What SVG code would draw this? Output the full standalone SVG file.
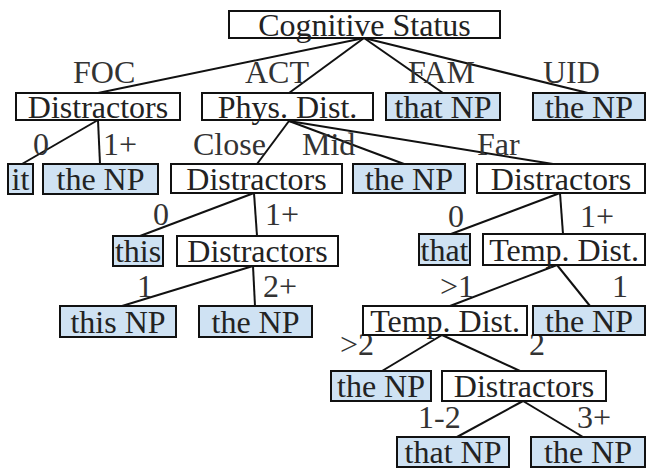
<svg xmlns="http://www.w3.org/2000/svg" width="652" height="468" viewBox="0 0 652 468">
<style>
.box{fill:#ffffff;stroke:#111;stroke-width:2}
.leaf{fill:#cfe2f3;stroke:#111;stroke-width:2}
.t{font-size:32px;fill:#222;text-anchor:middle}
.lbl{font-size:32px;fill:#333}
.edge{stroke:#111;stroke-width:2;fill:none}
</style>
<rect width="652" height="468" fill="#ffffff"/>
<g id="connectors">
<line class="edge" x1="364" y1="38" x2="98" y2="93"/>
<line class="edge" x1="364" y1="38" x2="289" y2="93"/>
<line class="edge" x1="364" y1="38" x2="443" y2="93"/>
<line class="edge" x1="364" y1="38" x2="588" y2="93"/>
<line class="edge" x1="98" y1="120" x2="22" y2="164"/>
<line class="edge" x1="98" y1="120" x2="100" y2="164"/>
<line class="edge" x1="289" y1="121" x2="257" y2="164"/>
<line class="edge" x1="289" y1="121" x2="404" y2="164"/>
<line class="edge" x1="289" y1="121" x2="553" y2="164"/>
<line class="edge" x1="254" y1="193" x2="140" y2="236"/>
<line class="edge" x1="254" y1="193" x2="257" y2="236"/>
<line class="edge" x1="560" y1="193" x2="451" y2="234"/>
<line class="edge" x1="560" y1="193" x2="563" y2="234"/>
<line class="edge" x1="253" y1="266" x2="122" y2="306"/>
<line class="edge" x1="253" y1="266" x2="255" y2="306"/>
<line class="edge" x1="557" y1="265" x2="450" y2="306"/>
<line class="edge" x1="557" y1="265" x2="590" y2="306"/>
<line class="edge" x1="442" y1="335" x2="382" y2="371"/>
<line class="edge" x1="442" y1="335" x2="520" y2="371"/>
<line class="edge" x1="523" y1="401" x2="457" y2="437"/>
<line class="edge" x1="523" y1="401" x2="583" y2="437"/>
</g>
<g font-family="Liberation Serif, Tinos, Times New Roman, DejaVu Serif, serif">
<g id="edge-labels">
<text class="lbl" x="73" y="83">FOC</text>
<text class="lbl" x="245" y="83">ACT</text>
<text class="lbl" x="408" y="83">FAM</text>
<text class="lbl" x="543" y="83">UID</text>
<text class="lbl" x="33" y="155">0</text>
<text class="lbl" x="103" y="155">1+</text>
<text class="lbl" x="193" y="155">Close</text>
<text class="lbl" x="302" y="155">Mid</text>
<text class="lbl" x="477" y="155">Far</text>
<text class="lbl" x="153" y="225">0</text>
<text class="lbl" x="265" y="225">1+</text>
<text class="lbl" x="448" y="227">0</text>
<text class="lbl" x="580" y="227">1+</text>
<text class="lbl" x="137" y="297">1</text>
<text class="lbl" x="263" y="297">2+</text>
<text class="lbl" x="440" y="297">&gt;1</text>
<text class="lbl" x="612" y="297">1</text>
<text class="lbl" x="340" y="355">&gt;2</text>
<text class="lbl" x="529" y="355">2</text>
<text class="lbl" x="418" y="428">1-2</text>
<text class="lbl" x="577" y="428">3+</text>
</g>
<g id="n-root"><rect class="box" x="229" y="11" width="271" height="27"/><text class="t" x="364.5" y="36">Cognitive Status</text></g>
<g id="n-foc"><rect class="box" x="16" y="93" width="164" height="27"/><text class="t" x="98" y="118">Distractors</text></g>
<g id="n-act"><rect class="box" x="202" y="93" width="171" height="27"/><text class="t" x="287.5" y="118">Phys. Dist.</text></g>
<g id="n-fam"><rect class="leaf" x="386" y="93" width="114" height="27"/><text class="t" x="443" y="118">that NP</text></g>
<g id="n-uid"><rect class="leaf" x="533" y="93" width="112" height="27"/><text class="t" x="589" y="118">the NP</text></g>
<g id="n-foc0"><rect class="leaf" x="8" y="164" width="25" height="30"/><text class="t" x="20.5" y="190">it</text></g>
<g id="n-foc1"><rect class="leaf" x="43" y="164" width="115" height="30"/><text class="t" x="100.5" y="190">the NP</text></g>
<g id="n-close"><rect class="box" x="171" y="164" width="171" height="29"/><text class="t" x="256.5" y="190">Distractors</text></g>
<g id="n-mid"><rect class="leaf" x="353" y="164" width="112" height="29"/><text class="t" x="409" y="190">the NP</text></g>
<g id="n-far"><rect class="box" x="477" y="164" width="168" height="29"/><text class="t" x="561" y="190">Distractors</text></g>
<g id="n-close0"><rect class="leaf" x="113" y="236" width="50" height="30"/><text class="t" x="138" y="262">this</text></g>
<g id="n-close1"><rect class="box" x="177" y="236" width="161" height="30"/><text class="t" x="257.5" y="262">Distractors</text></g>
<g id="n-far0"><rect class="leaf" x="419" y="234" width="51" height="31"/><text class="t" x="444.5" y="261">that</text></g>
<g id="n-far1"><rect class="box" x="483" y="234" width="162" height="31"/><text class="t" x="564" y="261">Temp. Dist.</text></g>
<g id="n-c1"><rect class="leaf" x="60" y="306" width="116" height="31"/><text class="t" x="118" y="333">this NP</text></g>
<g id="n-c2"><rect class="leaf" x="199" y="306" width="113" height="31"/><text class="t" x="255.5" y="333">the NP</text></g>
<g id="n-tgt1"><rect class="box" x="363" y="306" width="164" height="29"/><text class="t" x="445" y="332">Temp. Dist.</text></g>
<g id="n-t1"><rect class="leaf" x="533" y="306" width="112" height="29"/><text class="t" x="589" y="332">the NP</text></g>
<g id="n-tgt2"><rect class="leaf" x="331" y="371" width="100" height="30"/><text class="t" x="381" y="397">the NP</text></g>
<g id="n-t2"><rect class="box" x="442" y="371" width="164" height="30"/><text class="t" x="524" y="397">Distractors</text></g>
<g id="n-d12"><rect class="leaf" x="397" y="437" width="112" height="30"/><text class="t" x="453" y="463">that NP</text></g>
<g id="n-d3"><rect class="leaf" x="531" y="437" width="114" height="30"/><text class="t" x="588" y="463">the NP</text></g>
</g>
</svg>
